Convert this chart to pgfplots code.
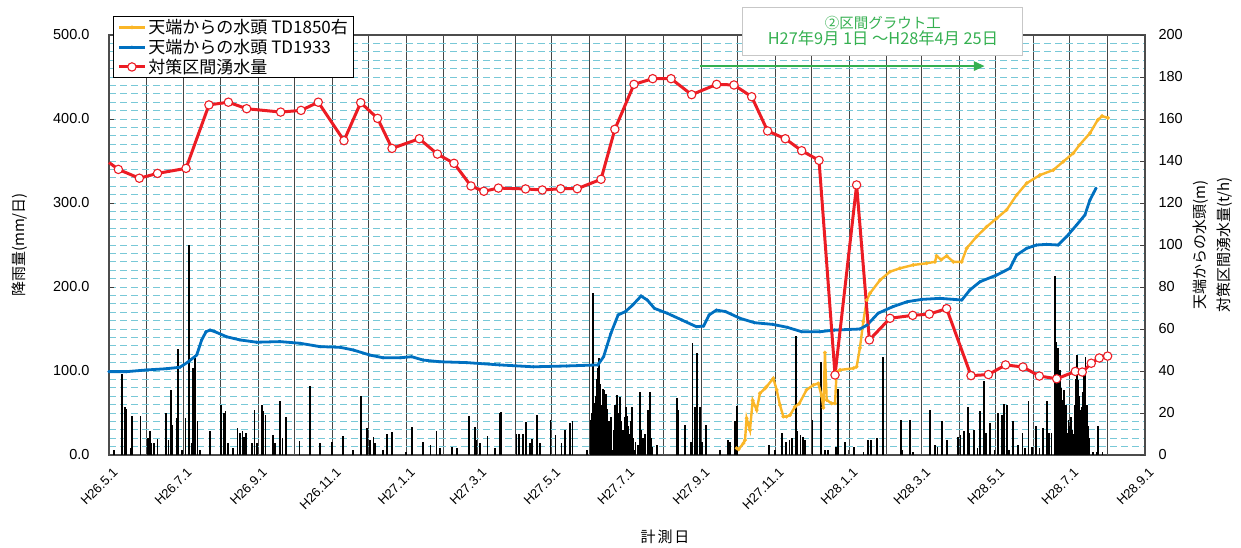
\documentclass[border=0pt]{standalone}
\usepackage{fontspec}
\setmainfont{Liberation Sans}
\newfontfamily\jp{Noto Sans CJK JP}
\usepackage{pgfplots}
\pgfplotsset{compat=1.18}
\usetikzlibrary{arrows.meta}
\definecolor{redc}{RGB}{236,28,36}
\definecolor{bluec}{RGB}{0,112,192}
\definecolor{orc}{RGB}{250,182,40}
\definecolor{grn}{RGB}{52,176,80}
\definecolor{gridc}{RGB}{120,200,215}
\definecolor{vgrid}{RGB}{70,70,70}

\pgfplotstableread{
d r
4 6
11 97
13 57
14 55
18 8
19 47
26 47
32 20
34 28
35 14
37 14
40 19
47 50
49 18
51 77
52 36
56 44
57 126
60 6
63 44
66 250
68 14
69 103
71 115
73 40
75 6
83 28
92 60
95 50
96 52
98 14
102 8
106 32
108 26
110 28
111 22
113 26
118 14
120 54
122 14
126 60
127 52
129 48
135 24
137 14
141 64
143 20
146 45
157 17
166 82
174 14
184 16
193 23
201 6
208 70
213 32
215 18
218 21
219 14
226 6
229 25
233 27
245 4
250 33
259 16
265 12
270 29
273 8
283 9
287 8
297 47
302 33
303 18
306 14
312 23
318 8
322 50
323 51
336 25
338 25
341 25
344 39
347 14
349 19
353 48
355 14
364 42
368 24
373 14
376 30
380 38
382 41
394 6
397 42
398 50
399 193
400 62
401 70
402 90
403 103
404 115
405 85
406 60
407 79
408 77
409 38
410 73
411 55
412 40
413 20
414 45
415 6
416 30
417 60
418 34
419 71
420 50
421 69
422 40
423 20
424 30
425 45
426 57
427 46
428 35
429 25
430 40
431 57
432 20
433 6
434 15
436 12
438 75
439 30
440 20
442 25
444 54
445 30
446 75
447 20
448 10
452 12
468 68
469 54
475 36
480 16
481 133
483 57
485 121
487 57
489 16
492 36
504 6
510 18
512 16
516 40
518 58
544 12
549 6
555 26
558 16
561 18
563 20
566 142
567 28
570 24
572 22
574 18
580 42
587 111
590 6
593 6
599 10
601 78
607 16
614 10
622 4
626 18
628 18
633 20
638 117
653 42
654 6
660 42
663 4
677 54
681 12
683 10
687 40
691 18
700 22
702 24
705 28
708 57
709 26
713 30
716 8
718 52
721 88
723 26
726 38
730 6
733 50
736 48
738 61
740 60
742 6
745 40
749 12
753 26
755 8
758 64
761 10
764 34
767 8
770 32
773 64
775 26
777 26
780 213
781 135
782 127
783 90
784 101
785 80
786 66
787 77
788 50
789 60
790 26
791 42
792 35
793 45
794 30
795 25
796 60
797 90
798 119
799 89
800 70
801 54
802 57
803 75
804 100
805 117
806 60
807 34
808 20
811 4
814 4
815 34
819 4
}\rain

\pgfplotstableread{
d v
0 39.7
14.5 39.7
31 40.5
47.5 41.1
58.5 41.8
65.4 44.4
72.3 47.6
76.4 54.8
80 58.7
83.3 59.5
87.4 58.7
97 56.3
108 54.8
121.7 53.7
141 54.0
157.5 53.2
174 51.6
190.4 51.3
201.4 50.0
215 47.6
226 46.3
240 46.3
249.5 46.8
259 45.2
272.8 44.4
294.8 44.0
322 42.9
349.8 42.0
377.3 42.4
403 42.9
407.7 46.8
413.7 57.9
419.7 66.7
425.7 68.3
431.7 71.4
438.6 75.7
443.7 73.8
449.7 69.8
460.2 67.5
472.2 64.3
484.2 61.1
490.1 61.4
494.7 66.7
500.7 69.0
508.2 68.3
520.2 65.1
532.1 63.0
547.1 62.2
559.1 60.8
571.1 58.7
586 58.7
598 59.5
619 60.0
625 61.9
634 67.5
646 70.6
658 73.0
670 74.1
685 74.6
703 73.8
709.7 78.6
718 82.5
731.7 85.7
742.7 88.9
748.2 95.2
756.4 98.4
764.6 100.0
772.9 100.3
782.4 100.0
789.4 104.0
797.6 109.5
804.5 114.3
808.6 121.4
813.6 127.0
}\blue

\pgfplotstableread{
d v
517.4 3.2
519 2.7
523 5.6
524.3 7.1
525.6 17.5
528.4 11.9
530.6 26
533.9 21.4
536.6 29.4
540.8 31.7
542 32.5
547.6 36.5
550.4 31
553.1 23.8
555.9 18.3
558.5 18.3
561.4 19
565.5 23
569 24.5
575 31
580.6 33.3
584.7 34.1
587.5 28
588.9 22.5
590.2 48.8
591.6 26.2
595.7 24.6
598.5 24.6
599.8 39.5
602.6 40.5
613.6 41.3
616.3 42
619 51
621.8 63.5
624.6 73.8
627.3 77
635.6 83.3
643.8 87.3
652 88.9
663 90.5
674 91.3
680.9 92
682.2 94.8
686 93
690.5 94.8
696 92
702.9 92
707 98.4
715.2 104
723.5 108.7
731.7 112.7
739.9 116.7
748.2 123.8
756.4 129.4
767.4 133.3
778.4 135.7
786.6 139.7
794.9 143.7
800 147.6
808.7 153.3
815 159.5
818.6 161.4
823.5 160.5
}\orange

\pgfplotstableread{
d v
7.7 136
25 131.8
40 134.1
63.5 136.5
82.4 166.7
98.4 168
113.5 164.9
141.5 163.3
158.3 164.1
172.5 168
193.7 149.7
207.5 167.8
221.4 160.3
233.3 146
255.8 150.6
270.7 143.3
284.4 138.9
298.4 128.1
309 125.6
321 127.1
343.4 126.7
357.2 126.2
372.3 126.8
386 126.8
405.6 131.3
417 155.1
432.8 176.5
448.2 179.2
463.3 179.2
480.3 171.6
500.9 176.5
515.2 176.2
529.8 170.6
542.9 154.3
557.5 150.6
571 144.9
585.3 140.3
598.5 38.1
616.3 128.6
626.8 54.8
643.8 65.1
662.5 66.5
676.2 67.1
690.5 69.7
710.6 37.8
724.9 38.3
739.1 42.9
753.4 41.9
766.9 37.6
781.2 36.3
796.6 39.8
802.3 39.5
809.7 43.7
816.3 46.2
823.2 47.1
}\red

\begin{document}
\begin{tikzpicture}
\path[use as bounding box] (-109pt,-92pt) rectangle (1132pt,455pt);
\begin{axis}[
  scale only axis, width=1036pt, height=420pt,
  xmin=0, xmax=854, ymin=0, ymax=500,
  clip=false,
  xtick={0,31,61,92,123,153,184,214,245,276,304,335,365,396,426,457,488,518,549,579,610,641,670,701,731,762,792,823,854},
  xticklabels={},
  ytick={0,100,...,500},
  minor ytick={0,10,...,500},
  xmajorgrids, ymajorgrids, yminorgrids,
  x grid style={solid, vgrid, line width=0.9pt},
  y grid style={dash pattern=on 7pt off 4pt, gridc, line width=1pt},
  minor tick length=0pt, major tick length=5pt, tick align=inside,
  xtick pos=left, ytick pos=left,
  axis line style={black!70, line width=1.3pt},
  tick style={black!75, line width=1pt},
  /pgf/number format/assume math mode=true,
  /pgf/number format/fixed,
  /pgf/number format/fixed zerofill,
  /pgf/number format/precision=1,
  every y tick label/.style={font=\fontsize{14.5}{16}\selectfont, xshift=-16pt},
  scaled y ticks=false,
  every axis y label/.style={at={(axis description cs:-0.0859,0.5)}, rotate=90, anchor=center, font=\jp\fontsize{15}{17}\selectfont},
  every axis x label/.style={at={(axis description cs:0.5367,-0.195)}, anchor=center, font=\jp\fontsize{15}{17}\selectfont},
  ylabel={降雨量(mm/日)},
  xlabel={計\hspace{2pt}測\hspace{2pt}日},
]
\addplot[ycomb, black, line width=1.8pt, forget plot] table[x=d,y=r] {\rain};
\foreach \dd/\lab in {0/H26.5.1,61/H26.7.1,123/H26.9.1,184/H26.11.1,245/H27.1.1,304/H27.3.1,365/H27.5.1,426/H27.7.1,488/H27.9.1,549/H27.11.1,610/H28.1.1,670/H28.3.1,731/H28.5.1,792/H28.7.1,854/H28.9.1}{
  \edef\temp{\noexpand\node[rotate=45, anchor=north east, inner sep=0pt, font=\noexpand\fontsize{13}{15}\noexpand\selectfont] at ([xshift=3pt,yshift=-12pt]axis cs:\dd,0) {\lab};}
  \temp
}
\end{axis}
\begin{axis}[
  scale only axis, width=1036pt, height=420pt,
  xmin=0, xmax=854, ymin=0, ymax=200,
  axis x line=none,
  axis y line*=right,
  ytick={0,20,...,200},
  clip=false,
  major tick length=5pt, tick align=inside,
  axis line style={black!70, line width=1.3pt},
  tick style={black!75, line width=1pt},
  /pgf/number format/assume math mode=true,
  every y tick label/.style={font=\fontsize{14.5}{16}\selectfont, xshift=10pt},
  every axis y label/.style={at={(axis description cs:1.0656,0.5)}, rotate=90, anchor=center, align=center, font=\jp\fontsize{15}{24}\selectfont},
  ylabel={天端からの水頭(m)\\対策区間湧水量(t/h)},
  legend image code/.code={\draw[mark repeat=2,mark phase=2,#1] plot coordinates {(0pt,0pt) (13pt,0pt) (26pt,0pt)};},
  legend style={at={(axis description cs:0.0039,1.045)}, anchor=north west, draw=black, line width=0.8pt, fill=white, font=\jp\fontsize{17}{19}\selectfont, inner xsep=4pt, inner ysep=1pt, row sep=0pt, cells={anchor=west}},
  legend cell align=left,
]
\addplot[orc, line width=2.4pt, mark=*, mark size=1.7pt, mark options={fill=orc, draw=orc, line width=0.5pt}] table[x=d,y=v] {\orange};
\addlegendentry{天端からの水頭 TD1850右}
\addplot[bluec, line width=2.8pt, mark=*, mark size=1.3pt, mark options={fill=bluec, draw=bluec, line width=0.5pt}] table[x=d,y=v] {\blue};
\addlegendentry{天端からの水頭 TD1933}
\addplot[redc, line width=3pt, forget plot] coordinates {(0,139.3) (7.7,136)};
\addplot[redc, line width=3pt, mark=*, mark size=4.2pt, mark options={fill=white, draw=redc, line width=1.1pt}] table[x=d,y=v] {\red};
\addlegendentry{対策区間湧水量}
\draw[-{Triangle[length=11pt,width=9pt]}, grn, line width=2.8pt] (axis cs:487.5,185.2) -- (axis cs:722,185.2);
\node[draw=black!22, line width=1pt, fill=white, text=grn, align=center, minimum width=280pt, minimum height=48pt, inner sep=0pt] at (axis cs:638,201.9) {{\jp\fontsize{14.5}{21}\selectfont ②区間グラウト工}\\{\jp\fontsize{16.3}{21}\selectfont H27年9月 1日 ～H28年4月 25日}};
\end{axis}
\end{tikzpicture}
\end{document}
